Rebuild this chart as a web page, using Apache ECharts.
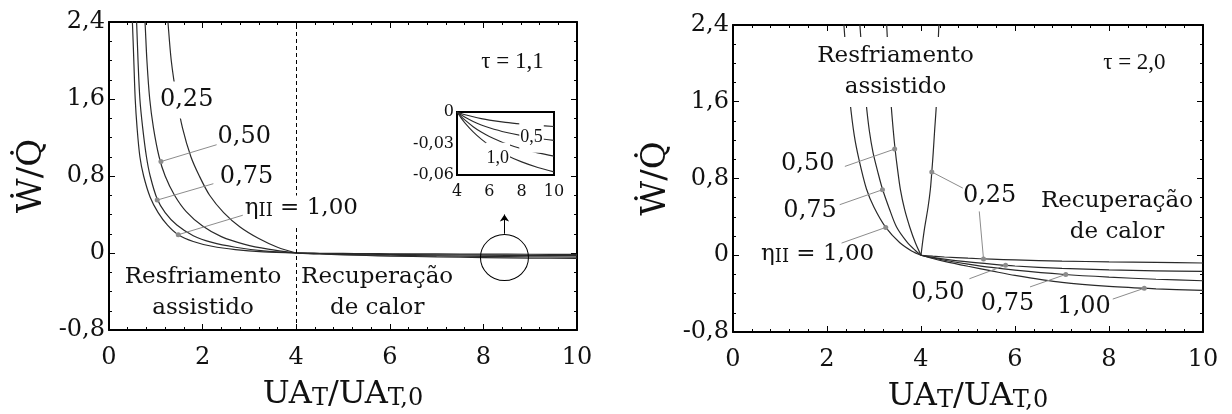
<!DOCTYPE html>
<html>
<head>
<meta charset="utf-8">
<script src="https://cdn.jsdelivr.net/npm/echarts@6/dist/echarts.min.js"></script>
<style>
html,body{margin:0;padding:0;background:#fff}
#chart{width:1232px;height:414px}
</style>
</head>
<body>
<div id="chart"></div>
<script>
// ---- τ = 1,1 : assisted cooling branch (UA ratio < 4), [UA_T/UA_T,0, W/Q]
const t11Cool025 = [[1.20,2.8],[1.26,2.4],[1.33,2.0],[1.45,1.6],[1.57,1.3],[1.75,1.0],[1.93,0.8],[2.15,0.6],[2.45,0.42],[2.8,0.27],[3.2,0.15],[3.6,0.06],[4,0]];
const t11Cool050 = [[0.72,2.8],[0.77,2.4],[0.81,2.0],[0.87,1.6],[0.95,1.3],[1.07,1.0],[1.2,0.8],[1.4,0.6],[1.65,0.43],[2.0,0.28],[2.4,0.17],[2.9,0.09],[3.4,0.04],[4,0]];
const t11Cool075 = [[0.55,2.8],[0.59,2.4],[0.62,2.0],[0.66,1.6],[0.72,1.3],[0.80,1.0],[0.88,0.8],[1.03,0.56],[1.2,0.42],[1.45,0.29],[1.8,0.18],[2.2,0.11],[2.7,0.06],[3.3,0.022],[4,0]];
const t11Cool100 = [[0.46,2.8],[0.50,2.4],[0.53,2.0],[0.56,1.6],[0.60,1.3],[0.66,1.0],[0.74,0.8],[0.88,0.58],[1.05,0.42],[1.25,0.29],[1.48,0.19],[1.8,0.12],[2.2,0.07],[2.7,0.035],[3.3,0.012],[4,0]];
// ---- τ = 1,1 : heat recovery branch (UA ratio > 4)
const t11Rec025 = [[4,0],[4.25,-0.0014],[4.5,-0.0026],[5,-0.0046],[5.5,-0.0063],[6,-0.0077],[7,-0.0099],[8,-0.0115],[9,-0.0128],[10,-0.0138]];
const t11Rec050 = [[4,0],[4.25,-0.0027],[4.5,-0.005],[5,-0.009],[5.5,-0.0123],[6,-0.015],[7,-0.0193],[8,-0.0225],[9,-0.025],[10,-0.027]];
const t11Rec075 = [[4,0],[4.25,-0.0041],[4.5,-0.0078],[5,-0.014],[5.5,-0.0191],[6,-0.0233],[7,-0.030],[8,-0.035],[9,-0.0389],[10,-0.042]];
const t11Rec100 = [[4,0],[4.25,-0.0056],[4.5,-0.0106],[5,-0.019],[5.5,-0.0259],[6,-0.0317],[7,-0.0407],[8,-0.0475],[9,-0.0528],[10,-0.057]];
// ---- τ = 2,0 : assisted cooling branch
const t20Cool025 = [[4.42,2.8],[4.38,2.4],[4.35,2.0],[4.33,1.6],[4.29,1.3],[4.26,1.07],[4.23,0.87],[4.2,0.69],[4.15,0.5],[4.08,0.295],[4.03,0.12],[4,0]];
const t20Cool050 = [[3.22,2.8],[3.27,2.4],[3.31,2.0],[3.36,1.6],[3.41,1.3],[3.45,1.1],[3.5,0.9],[3.56,0.69],[3.65,0.48],[3.76,0.295],[3.88,0.13],[4,0]];
const t20Cool075 = [[2.64,2.8],[2.70,2.4],[2.76,2.0],[2.83,1.6],[2.9,1.3],[2.98,1.07],[3.08,0.87],[3.18,0.69],[3.33,0.48],[3.48,0.295],[3.7,0.14],[3.88,0.05],[4,0]];
const t20Cool100 = [[2.30,2.8],[2.36,2.4],[2.42,2.0],[2.49,1.6],[2.58,1.25],[2.68,1.0],[2.84,0.69],[3.0,0.5],[3.25,0.29],[3.55,0.13],[3.8,0.045],[4,0]];
// ---- τ = 2,0 : heat recovery branch
const t20Rec025 = [[4,0],[4.25,-0.01],[4.5,-0.018],[5,-0.031],[5.5,-0.041],[6,-0.049],[7,-0.061],[8,-0.069],[9,-0.075],[10,-0.081]];
const t20Rec050 = [[4,0],[4.25,-0.022],[4.5,-0.04],[5,-0.07],[5.5,-0.093],[6,-0.112],[7,-0.137],[8,-0.152],[9,-0.162],[10,-0.169]];
const t20Rec075 = [[4,0],[4.25,-0.028],[4.5,-0.052],[5,-0.092],[5.5,-0.127],[6,-0.155],[7,-0.198],[8,-0.228],[9,-0.25],[10,-0.266]];
const t20Rec100 = [[4,0],[4.25,-0.034],[4.5,-0.064],[5,-0.115],[5.5,-0.163],[6,-0.21],[7,-0.283],[8,-0.325],[9,-0.35],[10,-0.367]];

// axis ranges
const xRange = [0, 10, 2];
const yRange = [-0.8, 2.4, 0.8];
const insetX = [4, 10, 2];
const insetY = [-0.06, 0, 0.03];

const SERIF = 'DejaVu Serif';
const TIMES = 'Liberation Serif';
const INK = '#111';
const CURVE = '#2a2a2a';
const LEAD = '#8c8c8c';

const fmt1 = v => v === 0 ? '0' : v.toFixed(1).replace('.', ',');
const fmt2 = v => v === 0 ? '0' : v.toFixed(2).replace('.', ',');
const fmtInt = v => String(Math.round(v));

const richText = {
  e: { fontFamily: SERIF, fontSize: 23, color: INK, lineHeight: 26, padding: [0, 0, 7, 0] },
  s: { fontFamily: SERIF, fontSize: 18, color: INK, lineHeight: 26 },
  t: { fontFamily: TIMES, fontSize: 23, color: INK }
};

function xAxisOf(grid, pos, withLabels) {
  return {
    type: 'value', gridIndex: grid, position: pos,
    min: xRange[0], max: xRange[1], interval: xRange[2],
    axisLine: { show: true, onZero: false, lineStyle: { color: '#000', width: 2 } },
    axisTick: { show: true, inside: true, length: 6, lineStyle: { color: '#000', width: 1 } },
    minorTick: { show: true, splitNumber: 5, length: 3, lineStyle: { color: '#000', width: 1 } },
    splitLine: { show: false }, minorSplitLine: { show: false },
    axisLabel: { show: withLabels, fontFamily: SERIF, fontSize: 24, color: INK, margin: 16, formatter: fmtInt },
    name: withLabels ? '{a|UA}{s|T}{a|/UA}{s|T,0}' : '',
    nameLocation: 'middle', nameGap: 52,
    nameTextStyle: {
      rich: {
        a: { fontFamily: SERIF, fontSize: 32, color: INK, lineHeight: 34, padding: [0, 0, 9, 0] },
        s: { fontFamily: SERIF, fontSize: 24, color: INK, lineHeight: 34 }
      }
    }
  };
}
function yAxisOf(grid, pos, withLabels) {
  return {
    type: 'value', gridIndex: grid, position: pos,
    min: yRange[0], max: yRange[1], interval: yRange[2],
    axisLine: { show: true, onZero: false, lineStyle: { color: '#000', width: 2 } },
    axisTick: { show: true, inside: true, length: 6, lineStyle: { color: '#000', width: 1 } },
    minorTick: { show: true, splitNumber: 4, length: 3, lineStyle: { color: '#000', width: 1 } },
    splitLine: { show: false }, minorSplitLine: { show: false },
    axisLabel: { show: withLabels, fontFamily: SERIF, fontSize: 24, color: INK, margin: 4, formatter: fmt1 },
    name: withLabels ? 'W\u0307/Q\u0307' : '',
    nameLocation: 'middle', nameRotate: 90, nameGap: 60,
    nameTextStyle: { fontFamily: SERIF, fontSize: 34, color: INK }
  };
}

function curve(data, ax) {
  return {
    type: 'line', data, xAxisIndex: ax, yAxisIndex: ax,
    showSymbol: false, symbol: 'none', smooth: 0.3, clip: true, silent: true, z: 3,
    lineStyle: { color: CURVE, width: 1.2 }
  };
}
function leader(from, to, ax) {
  return {
    type: 'line', xAxisIndex: ax, yAxisIndex: ax, silent: true, z: 4,
    data: [{ value: from, symbol: 'none' }, { value: to, symbol: 'circle', symbolSize: 5 }],
    showSymbol: true, lineStyle: { color: LEAD, width: 1 }, itemStyle: { color: LEAD }
  };
}
function notes(list, ax, base) {
  return {
    type: 'scatter', xAxisIndex: ax, yAxisIndex: ax, symbolSize: 0, silent: true, z: 6,
    itemStyle: { opacity: 1 },
    data: list.map(n => ({
      value: [n.x, n.y],
      label: Object.assign({
        show: true, position: 'inside', formatter: n.t, align: 'center', verticalAlign: 'middle',
        fontFamily: SERIF, fontSize: 23, color: INK, lineHeight: 31, rich: richText,
        backgroundColor: n.bg ? '#fff' : 'transparent', padding: n.bg ? [3, 2, 3, 2] : 0
      }, base || {}, n.style || {})
    }))
  };
}

// label placements (data coordinates of each panel)
const leftNotes = [
  { t: '0,25', x: 1.66, y: 1.59, bg: true, style: { fontSize: 24 } },
  { t: '0,50', x: 2.89, y: 1.21, style: { fontSize: 24 } },
  { t: '0,75', x: 2.94, y: 0.79, style: { fontSize: 24 } },
  { t: '{e|η}{s|II}{e| = 1,00}', x: 4.11, y: 0.43, bg: true },
  { t: 'Resfriamento\nassistido', x: 2.01, y: -0.413 },
  { t: 'Recuperação\nde calor', x: 5.73, y: -0.41 },
  { t: '{t|τ = 1,1}', x: 8.62, y: 1.98 }
];
const leftLeaders = [
  [[2.30, 1.125], [1.11, 0.95]],
  [[2.23, 0.72], [1.03, 0.55]],
  [[2.91, 0.40], [1.48, 0.19]]
];
const rightNotes = [
  { t: 'Resfriamento\nassistido', x: 3.46, y: 1.91, bg: true, style: { padding: [4, 4, 4, 4] } },
  { t: '{t|τ = 2,0}', x: 8.54, y: 2.007 },
  { t: '0,50', x: 1.59, y: 0.954, style: { fontSize: 24 } },
  { t: '0,75', x: 1.64, y: 0.464, style: { fontSize: 24 } },
  { t: '{e|η}{s|II}{e| = 1,00}', x: 1.80, y: -0.026 },
  { t: '0,25', x: 5.46, y: 0.62, style: { fontSize: 24 } },
  { t: 'Recuperação\nde calor', x: 8.17, y: 0.40 },
  { t: '0,50', x: 4.36, y: -0.39, style: { fontSize: 24 } },
  { t: '0,75', x: 5.84, y: -0.506, style: { fontSize: 24 } },
  { t: '1,00', x: 7.47, y: -0.534, style: { fontSize: 24 } }
];
const rightLeaders = [
  [[2.38, 0.926], [3.44, 1.107]],
  [[2.27, 0.527], [3.18, 0.683]],
  [[2.31, 0.127], [3.25, 0.29]],
  [[4.89, 0.70], [4.23, 0.868]],
  [[5.24, 0.457], [5.33, -0.038]],
  [[5.03, -0.245], [5.80, -0.104]],
  [[6.32, -0.33], [7.08, -0.2]],
  [[8.08, -0.457], [8.75, -0.344]]
];
const insetNotes = [
  { t: '0,5', x: 8.61, y: -0.024, bg: true },
  { t: '1,0', x: 6.52, y: -0.044, bg: true }
];
// magnifier ring around the recovery branch, and its arrow to the inset
const ringCenter = [8.45, -0.047];
const ringArrow = [[8.45, 0.20], [8.45, 0.40]];

const chart = echarts.init(document.getElementById('chart'), null, { renderer: 'canvas' });

const series = [];
[t11Cool025, t11Cool050, t11Cool075, t11Cool100, t11Rec025, t11Rec050, t11Rec075, t11Rec100]
  .forEach(d => series.push(curve(d, 0)));
[t20Cool025, t20Cool050, t20Cool075, t20Cool100, t20Rec025, t20Rec050, t20Rec075, t20Rec100]
  .forEach(d => series.push(curve(d, 2)));
[t11Rec025, t11Rec050, t11Rec075, t11Rec100].forEach(d => {
  const s = curve(d, 4); s.lineStyle.width = 1.1; series.push(s);
});
leftLeaders.forEach(l => series.push(leader(l[0], l[1], 0)));
rightLeaders.forEach(l => series.push(leader(l[0], l[1], 2)));

// dashed divider between the two operating regimes (τ = 1,1)
series.push({
  type: 'line', xAxisIndex: 0, yAxisIndex: 0, data: [], silent: true, z: 1,
  markLine: {
    silent: true, symbol: ['none', 'none'], label: { show: false },
    lineStyle: { color: '#000', type: [4, 3], width: 1 },
    data: [{ xAxis: 4 }]
  }
});
// ring + arrow
series.push({
  type: 'scatter', xAxisIndex: 0, yAxisIndex: 0, silent: true, z: 3,
  data: [ringCenter], symbol: 'circle', symbolSize: [48, 46],
  itemStyle: { color: 'rgba(0,0,0,0)', borderColor: '#000', borderWidth: 1, opacity: 1 },
  markLine: {
    silent: true, symbol: ['none', 'arrow'], symbolSize: 7, label: { show: false },
    lineStyle: { color: '#000', type: 'solid', width: 1 },
    data: [[{ coord: ringArrow[0] }, { coord: ringArrow[1] }]]
  }
});

series.push(notes(leftNotes, 0));
series.push(notes(rightNotes, 2));
series.push(notes(insetNotes, 4, { fontFamily: TIMES, fontSize: 18, padding: [0, 1, 0, 1] }));

const fixed = { outerBoundsMode: 'none', containLabel: false };
chart.setOption({
  animation: false,
  backgroundColor: '#fff',
  grid: [
    Object.assign({ left: 109, top: 22, width: 468, height: 308 }, fixed),
    Object.assign({ left: 733, top: 25, width: 470, height: 307 }, fixed),
    Object.assign({ left: 457, top: 112, width: 97, height: 63, show: true, borderColor: '#000', borderWidth: 2, backgroundColor: '#fff', z: 1 }, fixed)
  ],
  xAxis: [
    xAxisOf(0, 'bottom', true), xAxisOf(0, 'top', false),
    xAxisOf(1, 'bottom', true), xAxisOf(1, 'top', false),
    {
      type: 'value', gridIndex: 2, position: 'bottom', min: insetX[0], max: insetX[1], interval: insetX[2],
      axisLine: { show: false, onZero: false }, axisTick: { show: false }, splitLine: { show: false },
      axisLabel: { fontFamily: SERIF, fontSize: 16, color: INK, margin: 9, formatter: fmtInt }
    }
  ],
  yAxis: [
    yAxisOf(0, 'left', true), yAxisOf(0, 'right', false),
    yAxisOf(1, 'left', true), yAxisOf(1, 'right', false),
    {
      type: 'value', gridIndex: 2, position: 'left', min: insetY[0], max: insetY[1], interval: insetY[2],
      axisLine: { show: false, onZero: false }, axisTick: { show: false }, splitLine: { show: false },
      axisLabel: { fontFamily: SERIF, fontSize: 16, color: INK, margin: 3, formatter: fmt2 }
    }
  ],
  series
});
</script>
</body>
</html>
